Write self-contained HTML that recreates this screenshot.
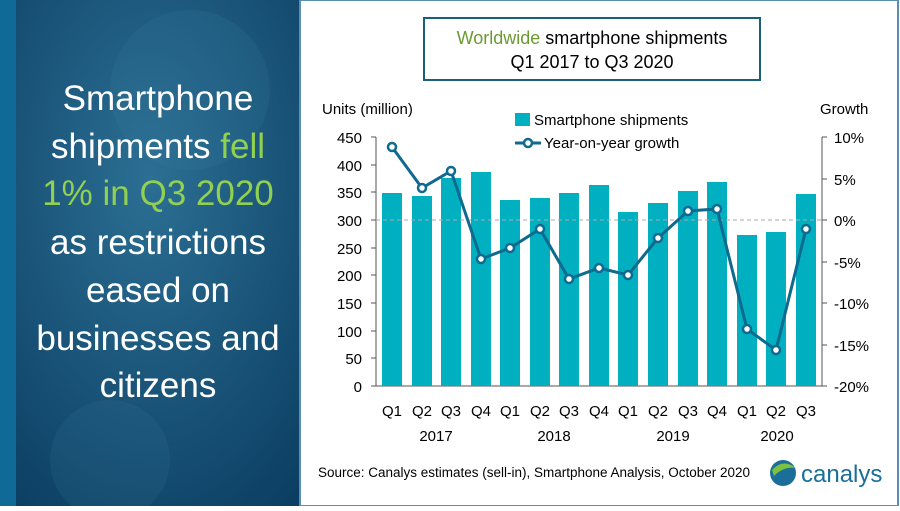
<!DOCTYPE html>
<html><head><meta charset="utf-8"><style>
body{margin:0;width:900px;height:506px;overflow:hidden;font-family:"Liberation Sans",sans-serif;}
</style></head><body>
<svg width="900" height="506" xmlns="http://www.w3.org/2000/svg" font-family="Liberation Sans, sans-serif">
<defs>
<radialGradient id="bg" cx="0.5" cy="0.35" r="0.8">
<stop offset="0" stop-color="#2c6f94"/><stop offset="1" stop-color="#0b3e62"/>
</radialGradient>
</defs>
<rect x="0" y="0" width="300" height="506" fill="url(#bg)"/>
<rect x="0" y="0" width="16" height="506" fill="#0f6a97"/>
<circle cx="190" cy="90" r="80" fill="#3a7ea3" opacity="0.18"/>
<circle cx="110" cy="460" r="60" fill="#3a7ea3" opacity="0.15"/>
<rect x="300" y="0" width="598" height="506" fill="#fff" stroke="#5a8fae" stroke-width="2"/>
<g fill="#fff" font-size="35" text-anchor="middle">
<text x="158" y="110">Smartphone</text>
<text x="158" y="158">shipments <tspan fill="#92d050">fell</tspan></text>
<text x="158" y="205" fill="#92d050">1% in Q3 2020</text>
<text x="158" y="254">as restrictions</text>
<text x="158" y="302">eased on</text>
<text x="158" y="350">businesses and</text>
<text x="158" y="397">citizens</text>
</g>
<rect x="424" y="18" width="336" height="62" fill="#fff" stroke="#1a5f7a" stroke-width="2"/>
<text x="592" y="44" font-size="18" text-anchor="middle"><tspan fill="#6a9a32">Worldwide</tspan> smartphone shipments</text>
<text x="592" y="68" font-size="18" text-anchor="middle">Q1 2017 to Q3 2020</text>
<text x="322" y="114" font-size="15">Units (million)</text>
<text x="820" y="114" font-size="15">Growth</text>
<rect x="515" y="113" width="15" height="13" fill="#00b0c0"/>
<text x="534" y="125" font-size="15">Smartphone shipments</text>
<line x1="515" y1="143" x2="541" y2="143" stroke="#0e6a8e" stroke-width="3"/>
<circle cx="528" cy="143" r="4" fill="#fff" stroke="#0e6a8e" stroke-width="2.5"/>
<text x="544" y="148" font-size="15">Year-on-year growth</text>
<g font-size="15" text-anchor="end">
<text x="362" y="143">450</text><text x="362" y="171">400</text><text x="362" y="198">350</text><text x="362" y="226">300</text><text x="362" y="254">250</text><text x="362" y="281">200</text><text x="362" y="309">150</text><text x="362" y="337">100</text><text x="362" y="364">50</text><text x="362" y="392">0</text>
</g>
<g font-size="15">
<text x="834" y="143">10%</text><text x="834" y="185">5%</text><text x="834" y="226">0%</text><text x="834" y="268">-5%</text><text x="834" y="309">-10%</text><text x="834" y="351">-15%</text><text x="834" y="392">-20%</text>
</g>
<g stroke="#555" stroke-width="1">
<line x1="376" y1="137" x2="376" y2="386"/>
<line x1="371" y1="137" x2="376" y2="137"/><line x1="371" y1="165" x2="376" y2="165"/><line x1="371" y1="192" x2="376" y2="192"/><line x1="371" y1="220" x2="376" y2="220"/><line x1="371" y1="248" x2="376" y2="248"/><line x1="371" y1="275" x2="376" y2="275"/><line x1="371" y1="303" x2="376" y2="303"/><line x1="371" y1="331" x2="376" y2="331"/><line x1="371" y1="358" x2="376" y2="358"/><line x1="371" y1="386" x2="376" y2="386"/>
<line x1="822" y1="137" x2="822" y2="386"/>
<line x1="822" y1="137" x2="827" y2="137"/><line x1="822" y1="179" x2="827" y2="179"/><line x1="822" y1="220" x2="827" y2="220"/><line x1="822" y1="262" x2="827" y2="262"/><line x1="822" y1="303" x2="827" y2="303"/><line x1="822" y1="345" x2="827" y2="345"/><line x1="822" y1="386" x2="827" y2="386"/>
<line x1="376" y1="386" x2="822" y2="386"/>
</g>
<g fill="#00b0c0">
<rect x="382" y="193" width="20" height="193"/>
<rect x="412" y="196" width="20" height="190"/>
<rect x="441" y="178" width="20" height="208"/>
<rect x="471" y="172" width="20" height="214"/>
<rect x="500" y="200" width="20" height="186"/>
<rect x="530" y="198" width="20" height="188"/>
<rect x="559" y="193" width="20" height="193"/>
<rect x="589" y="185" width="20" height="201"/>
<rect x="618" y="212" width="20" height="174"/>
<rect x="648" y="203" width="20" height="183"/>
<rect x="678" y="191" width="20" height="195"/>
<rect x="707" y="182" width="20" height="204"/>
<rect x="737" y="235" width="20" height="151"/>
<rect x="766" y="232" width="20" height="154"/>
<rect x="796" y="194" width="20" height="192"/>
</g>
<line x1="376" y1="220" x2="822" y2="220" stroke="#aaa" stroke-dasharray="4,3"/>
<polyline fill="none" stroke="#0e6a8e" stroke-width="3" points="392,147 422,188 451,171 481,259 510,248 540,229 569,279 599,268 628,275 658,238 688,211 717,209 747,329 776,350 806,229"/>
<g fill="#fff" stroke="#0e6a8e" stroke-width="2.5">
<circle cx="392" cy="147" r="4"/><circle cx="422" cy="188" r="4"/><circle cx="451" cy="171" r="4"/><circle cx="481" cy="259" r="4"/><circle cx="510" cy="248" r="4"/><circle cx="540" cy="229" r="4"/><circle cx="569" cy="279" r="4"/><circle cx="599" cy="268" r="4"/><circle cx="628" cy="275" r="4"/><circle cx="658" cy="238" r="4"/><circle cx="688" cy="211" r="4"/><circle cx="717" cy="209" r="4"/><circle cx="747" cy="329" r="4"/><circle cx="776" cy="350" r="4"/><circle cx="806" cy="229" r="4"/>
</g>
<g font-size="15" text-anchor="middle">
<text x="392" y="416">Q1</text><text x="422" y="416">Q2</text><text x="451" y="416">Q3</text><text x="481" y="416">Q4</text><text x="510" y="416">Q1</text><text x="540" y="416">Q2</text><text x="569" y="416">Q3</text><text x="599" y="416">Q4</text><text x="628" y="416">Q1</text><text x="658" y="416">Q2</text><text x="688" y="416">Q3</text><text x="717" y="416">Q4</text><text x="747" y="416">Q1</text><text x="776" y="416">Q2</text><text x="806" y="416">Q3</text>
<text x="436" y="441">2017</text><text x="554" y="441">2018</text><text x="673" y="441">2019</text><text x="777" y="441">2020</text>
</g>
<text x="318" y="477" font-size="13.5" textLength="432" lengthAdjust="spacingAndGlyphs">Source: Canalys estimates (sell-in), Smartphone Analysis, October 2020</text>
<circle cx="783" cy="473" r="13" fill="#1a6e9a"/>
<path d="M772,470 Q783,458 796,468 Q784,466 774,476 Z" fill="#7cc142"/>
<text x="801" y="482" font-size="24" fill="#1a6e9a">canalys</text>
</svg>
</body></html>
